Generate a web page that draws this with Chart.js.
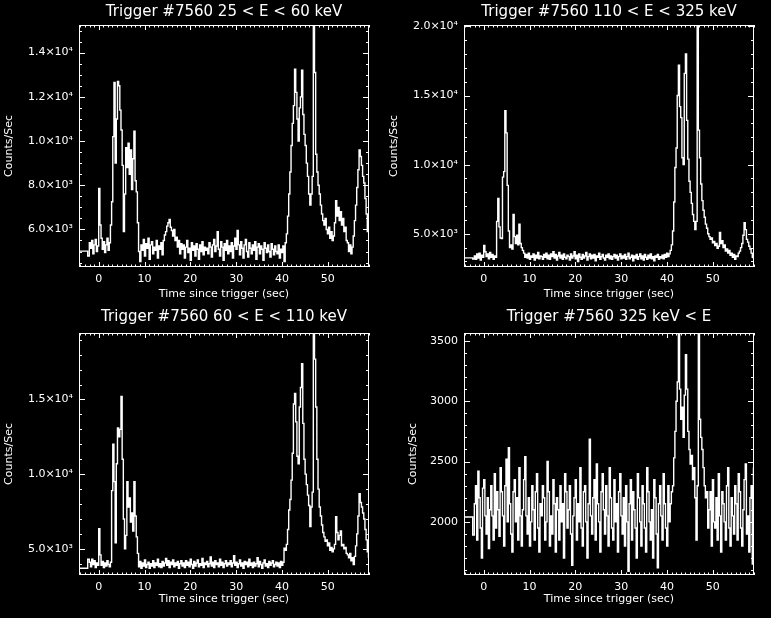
<!DOCTYPE html>
<html>
<head>
<meta charset="utf-8">
<script src="https://cdn.jsdelivr.net/npm/chart.js@4/dist/chart.umd.min.js"></script>
<style>
  html, body { margin: 0; padding: 0; background: #000; overflow: hidden; }
  #sheet { position: relative; width: 771px; height: 618px; overflow: hidden; background: #000; }
  #sheet canvas { position: absolute; }
</style>
</head>
<body>
<div id="sheet">
  <canvas id="p1"></canvas>
  <canvas id="p2"></canvas>
  <canvas id="p3"></canvas>
  <canvas id="p4"></canvas>
</div>
<script>
// bins: two coarse pre-trigger bins, then 0.256 s bins from -2.048 s
const preTimes = [-4.3, -2.4];
const binStart = -2.048;
const binWidth = 0.256;
const timeTicks = [0, 10, 20, 30, 40, 50];

const pre25to60 = [5020, 4800];
const rates25to60 = [
  5400, 5150, 5500, 4900, 5300, 5550, 5000, 5250, 7850, 6200, 5600, 5100, 5450, 4950, 5300, 5600, 5050, 5400, 6200, 7250,
  10200, 12650, 9000, 11000, 12700, 12500, 11400, 10500, 8900, 5900, 7600, 9700, 8800, 9900, 8500, 9600, 7800, 9200, 10450, 8200,
  7700, 6300, 5000, 4550, 5300, 5050, 5550, 4800, 5350, 5150, 5600, 4650, 5300, 5450, 4900, 5200, 5050, 5500, 4700, 5250,
  5100, 5400, 4850, 5500, 5750, 5900, 6150, 6300, 6450, 6100, 5950, 5700, 6000, 5500, 5650, 5200, 5500, 4900, 5350, 5100,
  5300, 4700, 5200, 5500, 4950, 5150, 4600, 5400, 5050, 5250, 4800, 5350, 5100, 4650, 5300, 5000, 5450, 4850, 5200, 5050,
  5150, 4900, 5400, 5200, 4750, 5300, 5550, 5000, 5250, 5900, 5100, 4800, 5450, 5200, 4600, 5350, 5050, 5500, 4900, 5250,
  5000, 5400, 4700, 5250, 5600, 5100, 5950, 5300, 4850, 5450, 5150, 4700, 5300, 5550, 5000, 4750, 5400, 5150, 4900, 5300,
  5050, 5450, 4650, 5200, 5350, 4900, 5250, 5100, 4600, 5400, 5150, 4950, 5300, 5000, 4750, 5350, 5100, 4850, 5250, 5000,
  4900, 5300, 4700, 5100, 4950, 5250, 4550, 5400, 5800, 6600, 7600, 8600, 9800, 10800, 11600, 13250, 12200, 11000, 10000, 11500,
  12000, 13200, 11200, 10300, 9800, 9000, 8400, 7600, 7100, 7600, 8400, 15250, 13100, 9400, 8600, 8000, 7600, 7100, 6700, 6400,
  6200, 6500, 6000, 5800, 6100, 5600, 5900, 5500, 5700, 6300, 7300, 6600, 7000, 6400, 6800, 6200, 6500, 5900, 6100, 5500,
  5400, 5000, 5300, 4900, 5200, 5700, 6400, 7100, 7900, 8700, 9600, 9300, 8900, 8400, 8100, 7400, 6700, 5900, 6300
];

const pre110to325 = [3260, 3180];
const rates110to325 = [
  3400, 3150, 3550, 3250, 3600, 3100, 3450, 3300, 4150, 3700, 3350, 3550, 3200, 3650, 3300, 3500, 3150, 3400, 3300, 5900,
  7550, 5500, 4700, 4650, 9100, 9500, 13900, 12300, 8500, 5200, 4000, 4200, 3900, 6400, 4800, 4300, 4900, 4200, 5700, 4300,
  4000, 3800, 3600, 3300, 3500, 3250, 3600, 3150, 3400, 3300, 3550, 3100, 3450, 3250, 3650, 3200, 3400, 3350, 3150, 3500,
  3300, 3600, 3200, 3450, 3150, 3550, 3350, 3700, 3250, 3500, 3100, 3400, 3650, 3250, 3450, 3150, 3550, 3300, 3200, 3450,
  3350, 3100, 3550, 3250, 3400, 3700, 3200, 3450, 3000, 3550, 3300, 3150, 3500, 3250, 3400, 3650, 3100, 3350, 3550, 3200,
  3450, 3250, 3500, 3050, 3400, 3300, 3600, 3150, 3350, 3500, 3250, 3100, 3450, 3300, 3550, 3200, 3400, 3150, 3350, 3500,
  3250, 3450, 3100, 3350, 3550, 3200, 3400, 3250, 3500, 3150, 3350, 3600, 3200, 3300, 3450, 3050, 3400, 3250, 3500, 3150,
  3350, 3550, 3200, 3400, 3100, 3500, 3300, 3150, 3450, 3250, 3550, 3200, 3350, 3050, 3400, 3300, 3500, 3150, 3350, 3250,
  3450, 3200, 3500, 3300, 3600, 3350, 3550, 3800, 4200, 5200, 7300, 9800, 11200, 15000, 17200, 14200, 13400, 10500, 10000, 16600,
  18000, 13200, 10400, 8800, 8000, 7200, 6400, 5900, 5300, 5900, 20100, 12500, 10500, 8600, 7400, 6700, 6200, 5700, 5400, 5000,
  4800, 4600, 4700, 4350, 4450, 4150, 4300, 3950, 4100, 5100, 4300, 4500, 4000, 4200, 3750, 3900, 3600, 3800, 3450, 3600,
  3300, 3500, 3150, 3400, 3350, 3600, 3750, 4000, 4300, 4900, 5800, 5300, 4600, 4400, 4100, 3900, 3600, 3300, 3200
];

const pre60to110 = [3700, 4300];
const rates60to110 = [
  4100, 3800, 4300, 3950, 4200, 3750, 4050, 3900, 6350, 4600, 3900, 4150, 3750, 4050, 3850, 4200, 3950, 3800, 4100, 8900,
  12000, 9500, 5400, 10700, 13100, 12500, 13000, 15200, 11000, 7000, 5000, 5900, 9500, 7800, 8400, 6800, 7400, 6200, 9500, 7200,
  5800, 4700, 3800, 4150, 3700, 4050, 3850, 4250, 3750, 3950, 4100, 3700, 4000, 3850, 4200, 3750, 4050, 3900, 4300, 3800,
  4000, 3750, 4150, 3850, 4050, 4350, 3900, 4200, 3750, 4100, 3950, 4250, 3800, 4050, 3900, 4150, 3700, 4000, 4200, 3850,
  4050, 3750, 4200, 3900, 4100, 3800, 4300, 3950, 3700, 4150, 3850, 4050, 4250, 3800, 4000, 3900, 4350, 3750, 4050, 3950,
  4150, 3800, 4000, 4450, 3850, 4100, 3750, 4200, 3950, 4050, 3800, 4300, 3900, 4100, 3750, 4000, 4200, 3850, 4050, 3950,
  4200, 3800, 4050, 4550, 3900, 4100, 3750, 4000, 4250, 3850, 4050, 3700, 4150, 3950, 4100, 3800, 4300, 3900, 4050, 3750,
  4100, 3850, 4000, 4400, 3800, 4150, 3950, 3700, 4050, 4250, 3850, 4000, 3750, 4150, 3900, 4050, 4200, 3800, 3950, 4100,
  3850, 4050, 3750, 4150, 3900, 4100, 5050, 4900, 5300, 6300, 7600, 8300, 9600, 11400, 14700, 15400, 13500, 11200, 10700, 14500,
  15800, 17400, 13400, 11000, 10000, 9300, 8600, 7900, 6500, 7800, 8800, 19400, 17700, 14500, 11000, 9000, 7800, 7200, 6600, 6100,
  5800, 5500, 5600, 5200, 5400, 4900, 5100, 4800, 5000, 5300, 7150, 6100, 5600, 5900, 6200, 5200, 5300, 5000, 5100, 4700,
  4600, 4400, 4700, 4200, 4400, 3950, 4500, 5200, 6000, 7200, 8700, 8100, 7800, 7400, 7000, 6300, 5600, 4800, 4400
];

const pre325up = [2040, 1890];
const rates325up = [
  2150, 2300, 1850, 2420, 2200, 1950, 1700, 2280, 2350, 2050, 1900, 2200, 1780, 2100, 2300, 2050, 1850, 2400, 1950, 2250,
  2100, 1880, 2450, 2250, 2050, 1800, 2300, 2520, 2000, 2615, 2150, 1900, 1750, 2250, 2350, 2000, 2200, 1850, 2450, 2050,
  1800, 2100, 2350, 2540, 2050, 1900, 2200, 1800, 2000, 2300, 2100, 1850, 2250, 2400, 1950, 1750, 2150, 2050, 2300, 2200,
  1850, 2000, 2500, 2250, 1800, 2050, 1900, 2350, 2150, 1750, 2200, 2100, 1850, 2300, 2000, 2150, 1700, 2400, 2250, 1950,
  2100, 2300, 1900, 1640, 2050, 2200, 2350, 1850, 2150, 2000, 2450, 1950, 1800, 2250, 2300, 2000, 1700, 2150, 2685, 2050,
  1900, 2200, 2350, 1850, 2480, 2150, 2000, 1750, 2250, 2400, 2100, 1900, 2300, 2050, 1800, 2450, 2200, 1950, 1850, 2350,
  2000, 2150, 1750, 2250, 2400, 2050, 1900, 2200, 1800, 2300, 2000, 1590, 2150, 2350, 1850, 2250, 2100, 1950, 1700, 2400,
  2200, 2000, 1800, 2300, 2150, 1950, 1750, 2450, 2250, 2000, 1850, 2100, 1700, 2350, 2200, 1900, 1620, 2150, 2300, 2050,
  1850, 2400, 2150, 1950, 1800, 2300, 2000, 2150, 2250, 2300, 2530, 2750, 3000, 3160, 3565, 3100, 2850, 2950, 2700, 3050,
  3385, 3100, 2750, 2600, 2480, 2550, 2350, 2450, 2200, 1850, 2300, 3565, 2850, 2700, 2600, 2450, 2300, 2200, 2250, 1950,
  2100, 2250, 1800, 2350, 2000, 1950, 2200, 1850, 2400, 2050, 1750, 2250, 2150, 2000, 1850, 2300, 2450, 1950, 1800, 2200,
  2050, 1900, 2300, 2150, 1850, 2400, 2250, 1950, 1800, 2100, 2350, 2480, 1900, 2050, 1750, 2200, 2300, 1650, 2450
];

const ticks25to60 = [6000, 8000, 10000, 12000, 14000];
const ticks110to325 = [5000, 10000, 15000, 20000];
const ticks60to110 = [5000, 10000, 15000];
const ticks325up = [2000, 2500, 3000, 3500];

const FONT = '"DejaVu Sans", sans-serif';
const SUP = { 3: '\u00b3', 4: '\u2074' };

function sciLabel(v) {
  const e = Math.floor(Math.log10(v));
  return (v / Math.pow(10, e)).toFixed(1) + '\u00d710' + SUP[e];
}

// IDL style box with inward ticks on all four sides
const idlFrame = {
  id: 'idlFrame',
  afterDatasetsDraw(chart, args, opts) {
    const { ctx, chartArea: a, scales: { x, y } } = chart;
    ctx.save();
    ctx.strokeStyle = '#fff';
    ctx.lineWidth = 1;
    ctx.strokeRect(a.left + 0.5, a.top + 0.5, a.right - a.left - 1, a.bottom - a.top - 1);
    ctx.beginPath();
    for (let v = Math.ceil(x.min); v <= x.max; v++) {
      const px = Math.round(x.getPixelForValue(v)) + 0.5;
      const len = v % 10 === 0 ? 5 : 2.5;
      ctx.moveTo(px, a.bottom); ctx.lineTo(px, a.bottom - len);
      ctx.moveTo(px, a.top); ctx.lineTo(px, a.top + len);
    }
    const step = opts.minor;
    for (let k = Math.ceil(y.min / step); k * step <= y.max; k++) {
      const v = k * step;
      const py = Math.round(y.getPixelForValue(v)) + 0.5;
      const len = opts.majors.includes(v) ? 6 : 3;
      ctx.moveTo(a.left, py); ctx.lineTo(a.left + len, py);
      ctx.moveTo(a.right, py); ctx.lineTo(a.right - len, py);
    }
    ctx.stroke();
    ctx.restore();
  }
};

const panels = [
  { id: 'p1', left: 0, top: 0, h: 305, title: 'Trigger #7560 25 < E < 60 keV', pre: pre25to60, rates: rates25to60,
    min: 4300, max: 15250, majors: ticks25to60, minor: 500, sci: true, titleGap: 4, xHeight: 38, xTitlePad: 4, yTitlePad: 3 },
  { id: 'p2', left: 385, top: 0, h: 305, title: 'Trigger #7560 110 < E < 325 keV', pre: pre110to325, rates: rates110to325,
    min: 2600, max: 20100, majors: ticks110to325, minor: 1000, sci: true, titleGap: 4, xHeight: 38, xTitlePad: 4, yTitlePad: 3 },
  { id: 'p3', left: 0, top: 305, h: 313, title: 'Trigger #7560 60 < E < 110 keV', pre: pre60to110, rates: rates60to110,
    min: 3250, max: 19450, majors: ticks60to110, minor: 1000, sci: true, titleGap: 7, xHeight: 43, xTitlePad: 12, yTitlePad: 3 },
  { id: 'p4', left: 385, top: 305, h: 313, title: 'Trigger #7560 325 keV < E', pre: pre325up, rates: rates325up,
    min: 1560, max: 3565, majors: ticks325up, minor: 100, sci: false, titleGap: 7, xHeight: 43, xTitlePad: 12, yTitlePad: 22 }
];

function makePanel(p) {
  const canvas = document.getElementById(p.id);
  canvas.width = 448;
  canvas.height = p.h;
  canvas.style.left = p.left + 'px';
  canvas.style.top = p.top + 'px';
  canvas.style.width = '448px';
  canvas.style.height = p.h + 'px';

  const points = preTimes.map((t, i) => ({ x: t, y: p.pre[i] }))
    .concat(p.rates.map((v, i) => ({ x: binStart + i * binWidth, y: v })));

  const tickFont = { family: FONT, size: 11 };
  return new Chart(canvas, {
    type: 'line',
    data: { datasets: [{ data: points, borderColor: '#fff', borderWidth: 1.4, pointRadius: 0, stepped: true, fill: false }] },
    options: {
      responsive: false,
      animation: false,
      devicePixelRatio: 1,
      layout: { padding: 0 },
      plugins: {
        legend: { display: false },
        tooltip: { enabled: false },
        title: { display: true, text: p.title, color: '#fff', font: { family: FONT, size: 15, weight: 'normal' },
                 padding: { top: 3, bottom: p.titleGap } },
        idlFrame: { majors: p.majors, minor: p.minor }
      },
      scales: {
        x: {
          type: 'linear', position: 'bottom', min: -4.3, max: 59,
          grid: { display: false, drawTicks: false }, border: { display: false },
          ticks: { color: '#fff', font: tickFont, padding: 6, maxRotation: 0 },
          afterBuildTicks: (s) => { s.ticks = timeTicks.map((v) => ({ value: v })); },
          afterFit: (s) => { s.height = p.xHeight; },
          title: { display: true, text: 'Time since trigger (sec)', color: '#fff', font: tickFont,
                   padding: { top: 0, bottom: p.xTitlePad } }
        },
        y: {
          type: 'linear', position: 'left', min: p.min, max: p.max,
          grid: { display: false, drawTicks: false }, border: { display: false },
          ticks: { color: '#fff', font: tickFont, padding: 6, callback: (v) => (p.sci ? sciLabel(v) : String(v)) },
          afterBuildTicks: (s) => { s.ticks = p.majors.map((v) => ({ value: v })); },
          afterFit: (s) => { s.width = 79; },
          title: { display: true, text: 'Counts/Sec', color: '#fff', font: tickFont,
                   padding: { top: p.yTitlePad, bottom: 0 } }
        },
        y2: {
          type: 'linear', position: 'right', min: p.min, max: p.max,
          grid: { display: false, drawTicks: false }, border: { display: false },
          ticks: { display: false },
          afterFit: (s) => { s.width = 79; }
        }
      }
    },
    plugins: [idlFrame]
  });
}

panels.forEach(makePanel);
</script>
</body>
</html>
